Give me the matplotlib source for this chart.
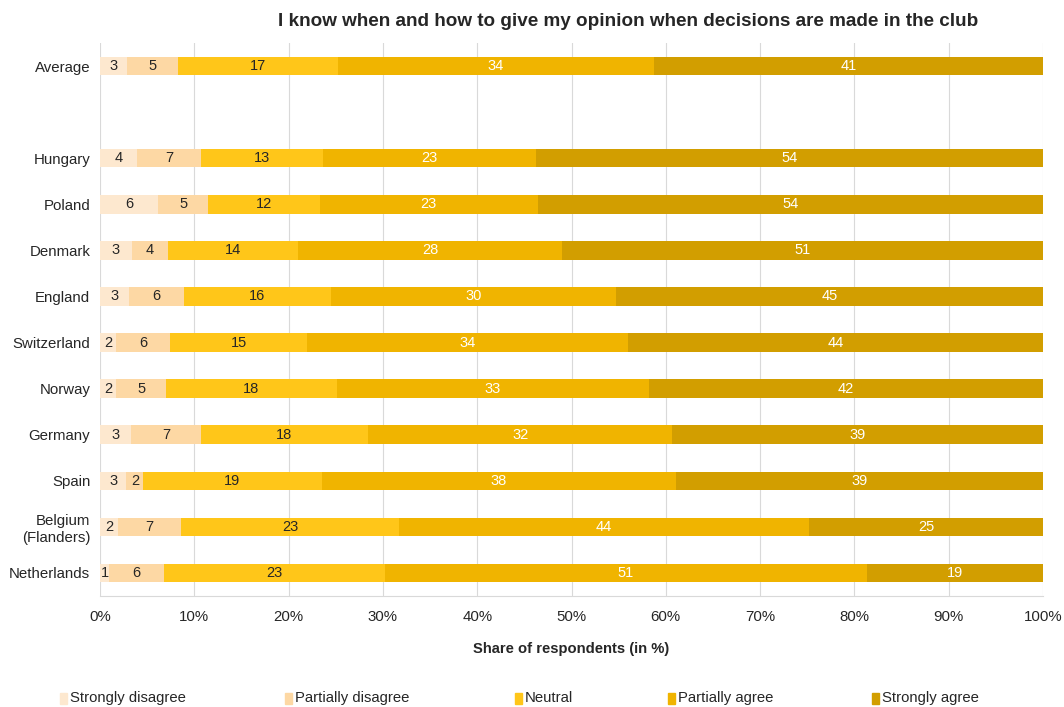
import matplotlib
matplotlib.use("Agg")
import matplotlib.pyplot as plt
import numpy as np

plt.rcParams['font.family'] = ['Liberation Sans', 'DejaVu Sans']

categories = ["Average", "", "Hungary", "Poland", "Denmark", "England", "Switzerland",
              "Norway", "Germany", "Spain", "Belgium\n(Flanders)", "Netherlands"]
series_names = ["Strongly disagree", "Partially disagree", "Neutral", "Partially agree", "Strongly agree"]
strongly_disagree = [2.9, np.nan, 3.9, 6.2, 3.4, 3.1, 1.7, 1.7, 3.3, 2.8, 1.9, 1.0]
partially_disagree = [5.4, np.nan, 6.8, 5.3, 3.8, 5.8, 5.7, 5.3, 7.4, 1.8, 6.7, 5.8]
neutral = [16.9, np.nan, 12.9, 11.8, 13.8, 15.6, 14.6, 18.1, 17.7, 18.9, 23.1, 23.4]
partially_agree = [33.6, np.nan, 22.6, 23.1, 28.0, 30.2, 34.0, 33.1, 32.3, 37.6, 43.5, 51.1]
strongly_agree = [41.2, np.nan, 53.8, 53.6, 51.0, 45.3, 44.0, 41.8, 39.3, 38.9, 24.8, 18.7]

colors = ["#FDE8CF", "#FDD8A4", "#FFC619", "#F0B400", "#D29E00"]
text_colors = ["#262626", "#262626", "#262626", "white", "white"]

fig = plt.figure(figsize=(10.64, 7.07), dpi=100)
ax = fig.add_axes([100/1064, 1-596/707, (1043-100)/1064, (596-43)/707])

data = [strongly_disagree, partially_disagree, neutral, partially_agree, strongly_agree]
y = np.arange(len(categories))
left = np.zeros(len(categories))
for vals, c, tc, name in zip(data, colors, text_colors, series_names):
    v = np.array(vals, dtype=float)
    vv = np.nan_to_num(v)
    ax.barh(y, vv, left=left, height=0.4, color=c, label=name, zorder=3)
    for yi, (l, w) in enumerate(zip(left, v)):
        if not np.isnan(w):
            ax.text(l + w/2, yi, f"{int(round(w))}", ha="center", va="center",
                    color=tc, fontsize=10.5, zorder=4)
    left = left + vv

ax.set_ylim(len(categories) - 0.5, -0.5)
ax.set_xlim(0, 100)
ax.set_yticks(y)
ax.set_yticklabels(categories, fontsize=10.8, color="#262626")
ax.set_xticks(np.arange(0, 101, 10))
ax.set_xticklabels([f"{t}%" for t in range(0, 101, 10)], fontsize=10.8, color="#262626")
ax.tick_params(axis='y', length=0, pad=7)
ax.tick_params(axis='x', length=0, pad=10)
ax.grid(axis='x', color="#D9D9D9", linewidth=0.8, zorder=0)
for s in ["top", "right", "left"]:
    ax.spines[s].set_visible(False)
ax.spines["bottom"].set_color("#D9D9D9")
ax.set_xlabel("Share of respondents (in %)", fontsize=10.6, fontweight="bold",
              color="#262626", labelpad=13)

fig.text(628/1064, 1-21/707, "I know when and how to give my opinion when decisions are made in the club",
         ha="center", va="center", fontsize=13.6, fontweight="bold", color="#262626")

leg_x = [60, 285, 515, 668, 872]
for xp, name, c in zip(leg_x, series_names, colors):
    fig.patches.append(plt.Rectangle((xp/1064, 1-704/707), 7/1064, 11/707,
                                     transform=fig.transFigure, color=c, figure=fig))
    fig.text((xp+10)/1064, 1-698/707, name, ha="left", va="center", fontsize=10.7, color="#262626")

fig.savefig("out.png", dpi=100)
